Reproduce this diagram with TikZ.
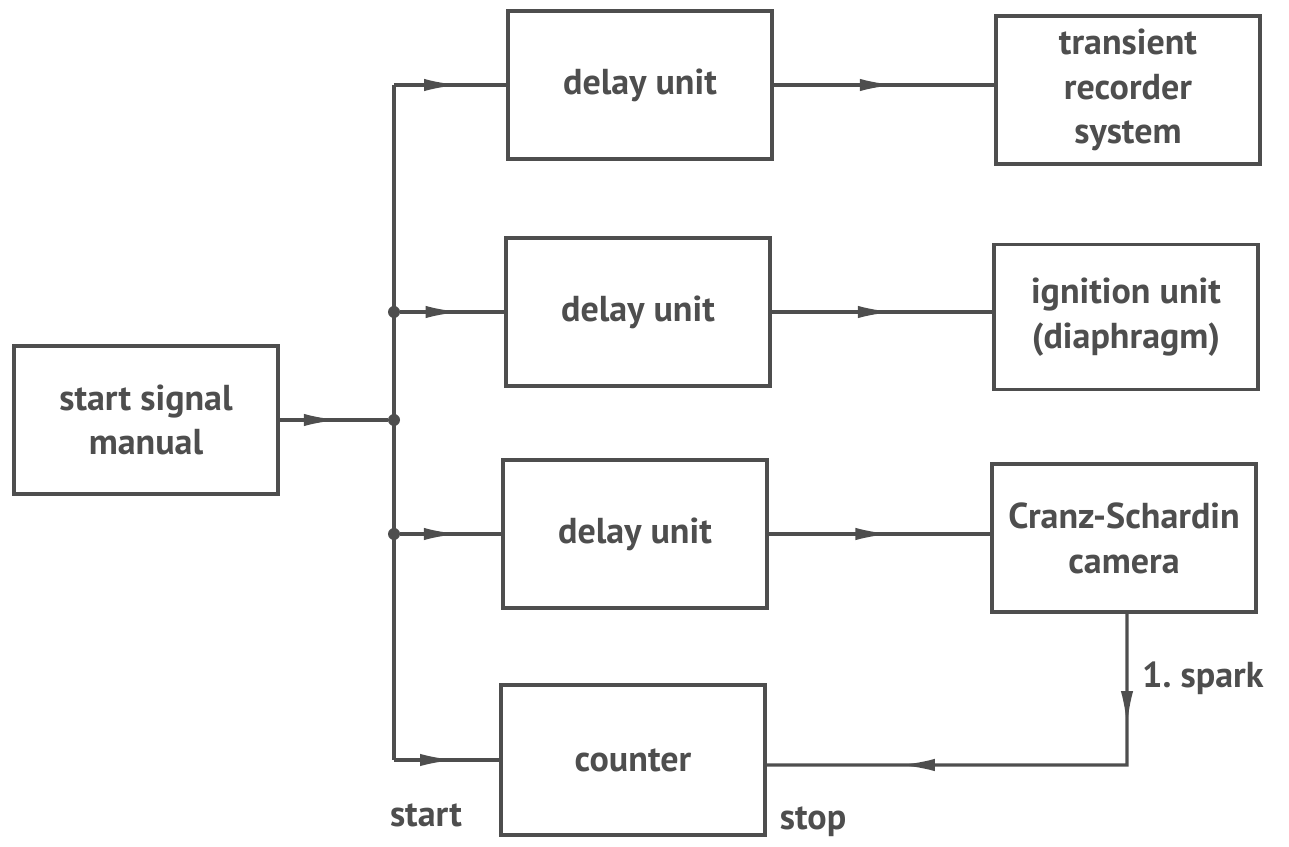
\documentclass[tikz,border=0pt]{standalone}
\usepackage{fontspec}
\setmainfont{PT Sans}
\usepackage{tikz}
\usetikzlibrary{arrows.meta, decorations.markings, calc}
\definecolor{InkGray}{RGB}{78,78,78}

\begin{document}
\begin{tikzpicture}[x=0.02cm, y=-0.02cm,
            box/.style={rectangle, draw=InkGray, line width=1.8pt,
                        minimum width=5.28cm, minimum height=2.96cm,
                        text=InkGray, font=\fontsize{20.5}{25.5}\selectfont\bfseries, align=center},
            wire/.style={draw=InkGray, line width=1.8pt},
            midarr/.style={wire, postaction={decorate}, decoration={markings,
                        mark=at position #1 with {\arrow{Latex[length=20pt, width=7pt]}}}},
            midarr/.default=0.55,
            dot/.style={circle, fill=InkGray, inner sep=0pt, minimum size=0.24cm},
            lbl/.style={text=InkGray, font=\fontsize{20.5}{25.5}\selectfont\bfseries}
          ]
          \useasboundingbox (0,0) rectangle (1289,847);

          % source and delay chain
          \node[box] (start) at (146, 420) {start signal\\manual};
          \node[box] (del1) at (640, 85) {delay unit};
          \node[box] (del2) at (638, 312) {delay unit};
          \node[box] (del3) at (635, 534) {delay unit};
          \node[box, minimum height=3cm] (cnt) at (633, 760) {counter};

          % triggered devices
          \node[box] (rec) at (1128, 90) {transient\\recorder\\system};
          \node[box, minimum height=2.9cm] (ign) at (1126, 317) {ignition unit\\(diaphragm)};
          \node[box] (cam) at (1124, 538) {Cranz-Schardin\\camera};

          % distribution bus
          \coordinate (bustop) at (394, 85);
          \coordinate (busbot) at (394, 760);
          \node[dot] (j1) at (394, 312) {};
          \node[dot] (j2) at (394, 420) {};
          \node[dot] (j3) at (394, 534) {};

          \draw[wire] (bustop) -- (busbot);
          \draw[midarr] (start.east) -- (j2);
          \draw[midarr=0.58] (bustop) -- (del1.west);
          \draw[midarr=0.58] (j1) -- (del2.west);
          \draw[midarr=0.58] (j3) -- (del3.west);
          \draw[midarr=0.58] (busbot) -- (cnt.west);

          \draw[midarr] (del1.east) -- (del1.east -| rec.west);
          \draw[midarr] (del2.east) -- (del2.east -| ign.west);
          \draw[midarr] (del3.east) -- (del3.east -| cam.west);

          % first spark stops the counter
          \coordinate (spk) at (1127, 765);
          \draw[wire, postaction={decorate}, decoration={markings,
                  mark=at position 0.22 with {\arrow{Latex[length=20pt, width=7pt]}},
                  mark=at position 0.74 with {\arrow{Latex[length=20pt, width=7pt]}}}]
                ($(cam.south west)!0.5!(cam.south east)+(3,0)$) -- (spk) -- (spk -| cnt.east);

          \node[lbl, anchor=west] (sparklbl) at (1136, 678) {1.\ spark};
          \node[lbl] (startlbl) at (426, 815) {start};
          \node[lbl] (stoplbl) at (813, 822) {stop};
        \end{tikzpicture}
\end{document}
